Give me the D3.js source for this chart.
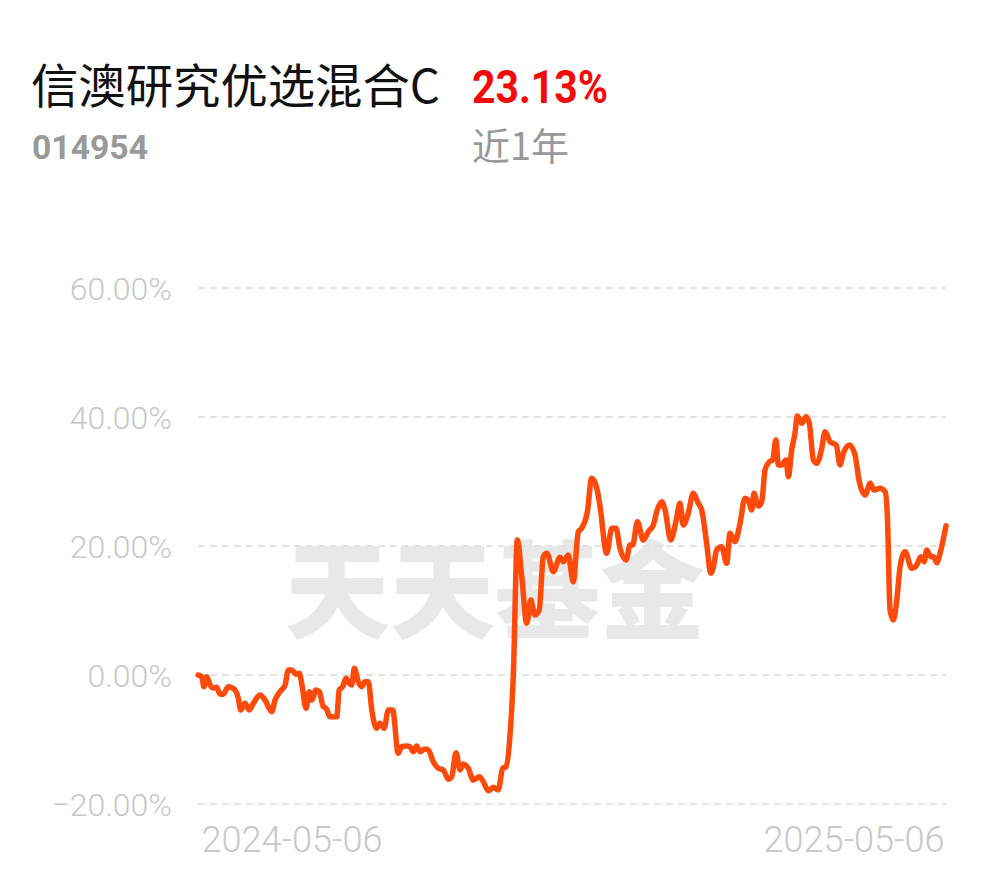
<!DOCTYPE html>
<html><head><meta charset="utf-8">
<script src="https://cdn.jsdelivr.net/npm/d3@7"></script>
<style>
html,body{margin:0;padding:0;background:#fff;}
svg{display:block;}
</style></head>
<body>
<svg id="c" width="990" height="878"></svg>
<script>
const fundName = "信澳研究优选混合C";
const fundCode = "014954";
const periodReturn = "23.13%";
const periodLabel = "近1年";
const startDate = "2024-05-06";
const endDate = "2025-05-06";
const yTicks = [-20, 0, 20, 40, 60];
const xTickLabels = ["2024-05-06", "2025-05-06"];
// days since start date
const dayOffsets = [0,1.8,2.9,4.2,5.9,7.5,9.1,10.7,12.3,14.8,16.4,18.1,19.7,20.8,22.9,25.0,27.0,30.3,32.7,36.0,37.6,40.0,42.5,44.1,45.7,47.8,49.4,50.6,52.7,54.3,55.5,57.6,59.2,61.1,62.5,64.4,67.7,68.9,70.6,72.2,73.8,75.0,76.3,78.2,79.9,81.5,83.1,84.8,87.2,88.8,90.8,92.9,95.0,97.7,99.4,101.8,103.4,105.1,106.7,108.3,110.8,112.4,114.8,117.3,119.7,122.1,123.8,125.9,127.9,129.2,131.9,134.3,137.3,139.2,141.7,144.1,146.5,148.7,150.3,152.2,153.9,155.8,158.0,160.4,162.4,164.4,166.5,168.5,170.2,173.4,176.6,178.3,180.7,183.1,185.6,187.2,190.0,192.1,194.6,196.2,199.4,201.9,204.0,205.9,208.9,210.8,212.1,214.4,217.3,219.7,222.2,224.1,226.3,227.9,230.7,233.2,235.2,236.8,239.2,241.7,244.1,245.8,248.2,250.2,251.5,253.1,255.5,258.0,259.6,262.0,264.5,266.9,268.5,270.2,271.3,273.4,275.1,276.7,278.8,280.4,282.0,283.2,284.8,286.9,288.1,289.7,291.3,292.4,294.6,296.7,298.3,300.3,301.9,304.3,306.0,308.4,311.4,313.3,314.9,317.9,320.6,322.7,325.5,328.0,329.9,332.8,335.3,336.4,337.7,339.3,341.0,342.6,345.0,348.3,350.7,352.7,354.3,355.6,357.6,358.9,360.5,362.1,365];
// cumulative return, %
const returns = [0,-0.26,-1.81,-0.26,-1.55,-2.02,-1.91,-2.95,-2.99,-1.81,-1.97,-2.33,-3.61,-5.43,-4.39,-5.43,-4.39,-3.10,-3.88,-5.69,-3.88,-2.59,-1.55,0.78,0.78,0.11,0.26,-1.29,-5.16,-2.59,-3.88,-2.33,-2.59,-4.91,-5.16,-6.47,-6.47,-2.33,-1.81,-0.51,-1.29,-1.55,1.04,-1.04,-1.81,-1.04,-1.04,-5.43,-8.26,-7.49,-8.26,-5.43,-5.43,-12.14,-11.12,-11.01,-11.12,-11.89,-11.01,-11.89,-11.47,-11.63,-13.44,-14.47,-14.73,-16.17,-15.77,-12.05,-14.73,-13.80,-14.47,-16.28,-15.77,-16.54,-17.94,-17.41,-17.83,-14.47,-14.22,-9.57,0.26,20.93,15.24,8.02,11.63,9.30,10.08,18.34,18.87,16.02,18.25,17.57,18.60,14.47,22.22,22.74,25.32,30.50,28.95,26.09,18.87,22.74,22.74,19.64,17.83,20.16,20.16,23.77,20.93,22.22,23.26,25.58,26.87,25.58,20.93,23.77,26.62,23.26,25.07,28.17,26.62,25.58,20.42,15.77,16.79,19.38,19.89,17.32,21.97,20.67,23.52,27.40,27.13,25.58,28.17,26.20,26.87,31.78,33.07,33.33,36.43,32.56,32.56,33.33,30.74,34.88,37.47,40.16,39.02,40.05,39.02,33.33,32.82,35.04,37.72,36.17,35.66,32.56,34.37,35.66,34.11,29.97,27.91,29.72,28.68,28.95,28.42,24.54,10.08,8.53,11.63,16.79,19.12,16.54,17.05,18.34,17.57,19.38,18.34,18.34,17.41,18.87,23.13];

const svg = d3.select("#c");
const parse = d3.timeParse("%Y-%m-%d");
const t0 = parse(startDate), t1 = parse(endDate);
const data = dayOffsets.map((d, i) => ({date: t0.getTime() + d * 864e5, v: returns[i]}));

const x = d3.scaleTime().domain([t0, t1]).range([198, 946]);
const y = d3.scaleLinear().domain([-20, 60]).range([804, 288]);

// Header
svg.append("text").attr("x", 31).attr("y", 103)
  .attr("font-family", "'Noto Sans CJK SC', sans-serif").attr("font-size", 47)
  .attr("textLength", 409).attr("lengthAdjust", "spacingAndGlyphs")
  .attr("fill", "#111").text(fundName);
svg.append("text").attr("x", 472).attr("y", 103)
  .attr("font-family", "Roboto, sans-serif").attr("font-weight", 700).attr("font-size", 47)
  .attr("textLength", 136).attr("lengthAdjust", "spacingAndGlyphs")
  .attr("fill", "#f50a0a").text(periodReturn);
svg.append("text").attr("x", 32).attr("y", 159)
  .attr("font-family", "Roboto, sans-serif").attr("font-weight", 700).attr("font-size", 34)
  .attr("textLength", 116).attr("lengthAdjust", "spacingAndGlyphs")
  .attr("fill", "#999").text(fundCode);
svg.append("text").attr("x", 472).attr("y", 160)
  .attr("font-family", "'Noto Sans CJK SC', sans-serif").attr("font-size", 38)
  .attr("fill", "#999").text(periodLabel);

// Watermark
svg.append("text").attr("x", 495).attr("y", 630).attr("text-anchor", "middle")
  .attr("font-family", "'Noto Sans CJK SC', sans-serif").attr("font-weight", 900).attr("font-size", 106)
  .attr("textLength", 420).attr("lengthAdjust", "spacingAndGlyphs")
  .attr("fill", "#e8e8e8").text("天天基金");

// Grid
const grid = svg.append("g");
grid.selectAll("line").data(yTicks).join("line")
  .attr("x1", 198).attr("x2", 946)
  .attr("y1", d => y(d)).attr("y2", d => y(d))
  .attr("stroke", "#e3e3e3").attr("stroke-width", 2).attr("stroke-dasharray", "7,5");

// Y axis labels
const fmt = d3.format(".2f");
const yAxis = d3.axisLeft(y).tickValues(yTicks).tickSize(0).tickPadding(0)
  .tickFormat(d => fmt(d) + "%");
const yg = svg.append("g").attr("transform", "translate(172,0)").call(yAxis);
yg.select(".domain").remove();
yg.selectAll("text").attr("font-family", "Roboto, sans-serif").attr("font-weight", 300)
  .attr("font-size", 32).attr("fill", "#c8c8c8").attr("dy", "0.36em");

// X axis labels
const xAxis = d3.axisBottom(x).tickValues([t0, t1]).tickSize(0).tickPadding(0)
  .tickFormat((d, i) => xTickLabels[i]);
const xg = svg.append("g").attr("transform", "translate(0,852)").call(xAxis);
xg.select(".domain").remove();
xg.selectAll("text").attr("font-family", "Roboto, sans-serif").attr("font-weight", 300)
  .attr("font-size", 36).attr("fill", "#c8c8c8").attr("dy", 0)
  .attr("text-anchor", (d, i) => i === 0 ? "start" : "end")
  .attr("dx", (d, i) => i === 0 ? 3 : -2)
  .attr("textLength", 181).attr("lengthAdjust", "spacingAndGlyphs");

// Line
const line = d3.line().x(d => x(d.date)).y(d => y(d.v)).curve(d3.curveMonotoneX);
svg.append("path").datum(data).attr("d", line)
  .attr("fill", "none").attr("stroke", "#ff4a0a").attr("stroke-width", 5.5)
  .attr("stroke-linejoin", "round").attr("stroke-linecap", "round");
</script>
</body></html>
